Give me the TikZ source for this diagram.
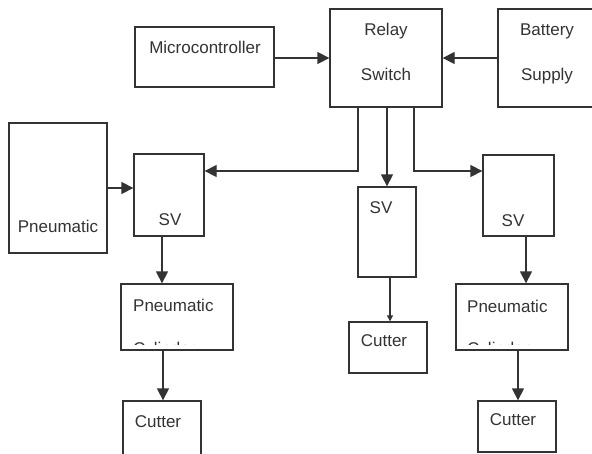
\documentclass[tikz,border=0pt]{standalone}
\usepackage{fontspec}
\setmainfont{Liberation Sans}
\usetikzlibrary{arrows.meta}
\definecolor{ink}{HTML}{333333}
\begin{document}
\begin{tikzpicture}[x=1pt,y=-1pt,
  box/.style={draw=ink,line width=1.3pt,rectangle,inner sep=0pt},
  txt/.style={text=ink,font=\fontsize{17}{20}\selectfont,inner sep=0pt},
  arr/.style={draw=ink,line width=1.3pt,-{Triangle[length=12pt,width=12pt]}},
  arrs/.style={draw=ink,line width=1.1pt,-{Triangle[length=6pt,width=6pt]}},
  ln/.style={draw=ink,line width=1.3pt}]
\useasboundingbox (0,0) rectangle (592,453);
\clip (0,0) rectangle (592,453);
\fill[white] (0,0) rectangle (592,453);
% boxes
\node[box,minimum width=139pt,minimum height=60pt] (micro) at (204.5,57) {};
\node[box,minimum width=112pt,minimum height=98pt] (relay) at (386,58) {};
\node[box,minimum width=102pt,minimum height=98pt] (batt) at (549,58) {};
\node[box,minimum width=98pt,minimum height=130pt] (pneu) at (58,188) {};
\node[box,minimum width=70pt,minimum height=82pt] (svl) at (169,195) {};
\node[box,minimum width=58pt,minimum height=90pt] (svm) at (387,232) {};
\node[box,minimum width=71pt,minimum height=81pt] (svr) at (518.5,195.5) {};
\node[box,minimum width=112pt,minimum height=66pt] (cyll) at (177,317) {};
\node[box,minimum width=112pt,minimum height=66pt] (cylr) at (512,317) {};
\node[box,minimum width=78pt,minimum height=69pt] (cutl) at (162,435.5) {};
\node[box,minimum width=78pt,minimum height=51pt] (cutm) at (388,347.5) {};
\node[box,minimum width=78pt,minimum height=51pt] (cutr) at (517,426.5) {};
% texts
\node[txt,anchor=base] (tmicro) at (205,53) {Microcontroller};
\node[txt,anchor=base] (trelay) at (386,35) {Relay};
\node[txt,anchor=base] (tswitch) at (386,80) {Switch};
\node[txt,anchor=base] (tbatt) at (547,35) {Battery};
\node[txt,anchor=base] (tsupply) at (547,80) {Supply};
\node[txt,anchor=base] (tpneu) at (58,232) {Pneumatic};
\node[txt,anchor=base] (tsvl) at (170,225) {SV};
\node[txt,anchor=base] (tsvm) at (381,213) {SV};
\node[txt,anchor=base] (tsvr) at (513,226) {SV};
\node[txt,anchor=base west] (tcyll) at (133,311) {Pneumatic};
\node[txt,anchor=base west] (tcylr) at (467,312) {Pneumatic};
\node[txt,anchor=base] (tcutl) at (158,427) {Cutter};
\node[txt,anchor=base] (tcutm) at (384,346) {Cutter};
\node[txt,anchor=base] (tcutr) at (513,425) {Cutter};
\begin{scope}
\clip (121,284) rectangle (233,344) (456,284) rectangle (568,344);
\node[txt,anchor=base west] (tcyll2) at (133,354) {Cylinder};
\node[txt,anchor=base west] (tcylr2) at (467,354) {Cylinder};
\end{scope}
% connectors
\draw[arr] (micro.east |- relay.west) -- (relay.west);
\draw[arr] (batt.west) -- (relay.east);
\draw[arr] ([xshift=-28pt]relay.south) |- ([yshift=24pt]svl.east);
\draw[arr] (relay.south -| svm.north) -- (svm.north);
\draw[arr] ([xshift=28pt]relay.south) |- ([yshift=24.5pt]svr.west);
\draw[arr] (pneu.east) -- (pneu.east -| svl.west);
\draw[arr] ([xshift=-7pt]svl.south) -- ([xshift=-7pt]svl.south |- cyll.north);
\draw[arr] ([xshift=-14pt]cyll.south) -- ([xshift=-14pt]cyll.south |- cutl.north);
\draw[arrs] ([xshift=3pt]svm.south) -- ([xshift=3pt]svm.south |- cutm.north);
\draw[arr] ([xshift=7.5pt]svr.south) -- ([xshift=7.5pt]svr.south |- cylr.north);
\draw[arr] ([xshift=6pt]cylr.south) -- ([xshift=6pt]cylr.south |- cutr.north);
\end{tikzpicture}
\end{document}
